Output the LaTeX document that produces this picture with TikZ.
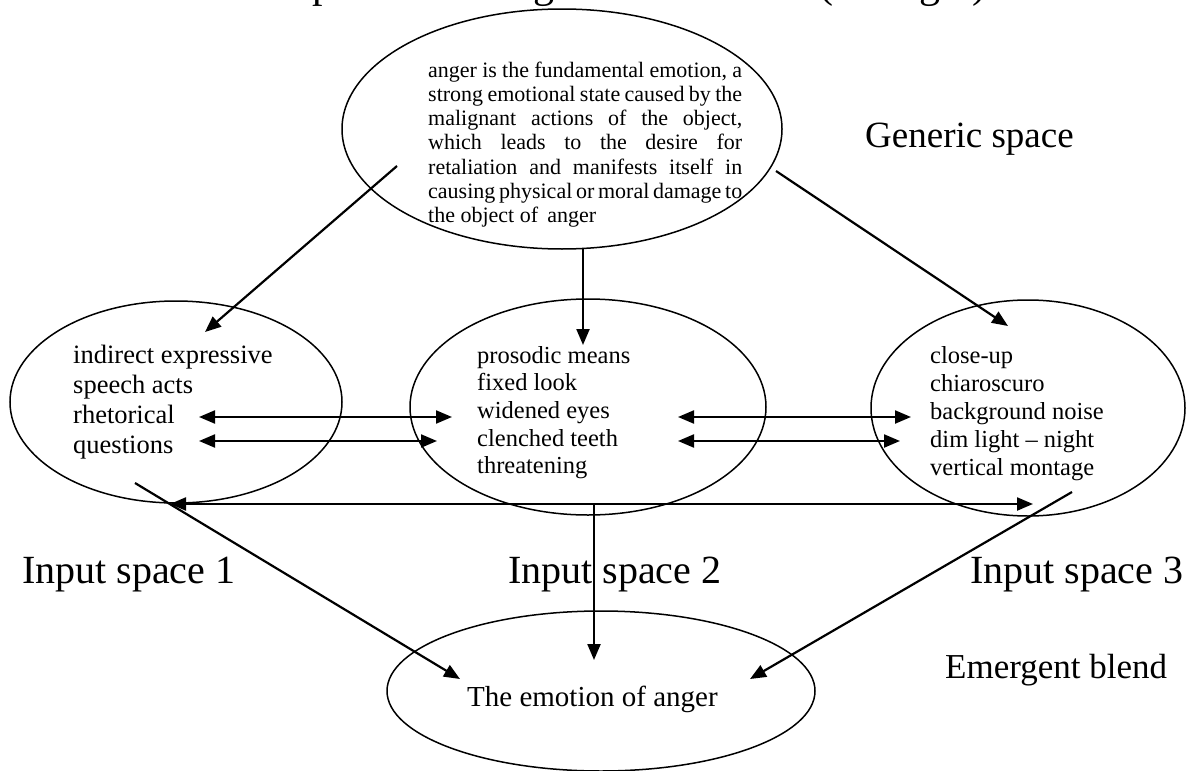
\documentclass[tikz,border=0pt]{standalone}
\usepackage{fontspec}
\setmainfont{Liberation Serif}
\usetikzlibrary{arrows.meta,shapes.geometric}
\begin{document}
\begin{tikzpicture}[x=1pt,y=-1pt,
  space/.style={draw, ellipse, line width=1.5pt, inner sep=0pt},
  conn/.style={line width=2.2pt, -{Triangle[length=16pt,width=13pt]}},
  biconn/.style={line width=2.2pt, {Triangle[length=16pt,width=13pt]}-{Triangle[length=16pt,width=13pt]}},
  lbl/.style={anchor=base west, inner sep=0pt, font=\fontsize{37}{42}\selectfont},
  txt/.style={anchor=base west, inner sep=0pt}]
\useasboundingbox (0,0) rectangle (1186,771);

% title (cut off at the top)
\node[lbl, font=\fontsize{42}{46}\selectfont] (title) at (205,-2) {Conceptual blending of the emotion (of anger)};

% spaces
\node[space, minimum width=440pt, minimum height=240pt] (gen) at (562,129) {};
\node[space, minimum width=332pt, minimum height=202pt] (in1) at (176,402) {};
\node[space, minimum width=356pt, minimum height=216pt] (in2) at (588,407) {};
\node[space, minimum width=314pt, minimum height=216pt] (in3) at (1028,408) {};
\node[space, minimum width=428pt, minimum height=160pt] (bl) at (601,691) {};

% texts
\node[txt] (gentext) at (428,77) {\parbox[t]{314pt}{\fontsize{22}{24.3}\selectfont
\makebox[314pt][s]{anger is the fundamental emotion, a}\\
\makebox[314pt][s]{strong emotional state caused by the}\\
\makebox[314pt][s]{malignant actions of the object,}\\
\makebox[314pt][s]{which leads to the desire for}\\
\makebox[314pt][s]{retaliation and manifests itself in}\\
\makebox[314pt][s]{causing physical or moral damage to}\\
the object of\, anger}};
\node[txt] (in1text) at (73,363) {\parbox[t]{260pt}{\fontsize{26.5}{30}\selectfont
indirect expressive\\ speech acts\\ rhetorical\\ questions}};
\node[txt] (in2text) at (477,363) {\parbox[t]{260pt}{\fontsize{24.5}{27.7}\selectfont
prosodic means\\ fixed look\\ widened eyes\\ clenched teeth\\ threatening}};
\node[txt] (in3text) at (930,363) {\parbox[t]{260pt}{\fontsize{24.5}{28}\selectfont
close-up\\ chiaroscuro\\ background noise\\ dim light -- night\\ vertical montage}};
\node[txt, font=\fontsize{29}{32}\selectfont] (bltext) at (467,706) {The emotion of anger};

% labels
\node[lbl] (lgen) at (865,147) {Generic space};
\node[lbl, font=\fontsize{40}{44}\selectfont] (lin1) at (22,583) {Input space 1};
\node[lbl, font=\fontsize{40}{44}\selectfont] (lin2) at (508,583) {Input space 2};
\node[lbl, font=\fontsize{40}{44}\selectfont] (lin3) at (970,583) {Input space 3};
\node[lbl, font=\fontsize{35}{40}\selectfont] (lbl) at (945,678) {Emergent blend};

% connector end points
\coordinate (g1s) at (397,166); \coordinate (g1e) at (205,332);
\coordinate (g2s) at (583,248); \coordinate (g2e) at (583,345);
\coordinate (g3s) at (776,171); \coordinate (g3e) at (1008,326);
\coordinate (a1) at (199,417); \coordinate (b1) at (452,417);
\coordinate (a2) at (199,441); \coordinate (b2) at (437,441);
\coordinate (c1) at (678,417); \coordinate (d1) at (911,417);
\coordinate (c2) at (678,441); \coordinate (d2) at (900,441);
\coordinate (e1) at (170,504); \coordinate (e2) at (1033,504);
\coordinate (f1s) at (135,483); \coordinate (f1e) at (460,679);
\coordinate (f2s) at (594,504); \coordinate (f2e) at (594,660);
\coordinate (f3s) at (1072,492); \coordinate (f3e) at (750,679);

% connectors
\draw[conn] (g1s) -- (g1e);
\draw[conn] (g2s) -- (g2e);
\draw[conn] (g3s) -- (g3e);
\draw[biconn] (a1) -- (b1);
\draw[biconn] (a2) -- (b2);
\draw[biconn] (c1) -- (d1);
\draw[biconn] (c2) -- (d2);
\draw[biconn] (e1) -- (e2);
\draw[conn] (f1s) -- (f1e);
\draw[conn] (f2s) -- (f2e);
\draw[conn] (f3s) -- (f3e);
\end{tikzpicture}
\end{document}
